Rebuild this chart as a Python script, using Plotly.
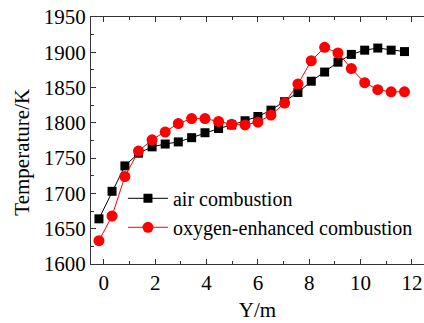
import plotly.graph_objects as go

y_pos = [-0.19, 0.32, 0.82, 1.35, 1.88, 2.39, 2.9, 3.42, 3.94, 4.47, 4.98, 5.5,
         6.0, 6.51, 7.04, 7.56, 8.08, 8.6, 9.12, 9.64, 10.16, 10.67, 11.19, 11.71]
air_temp = [1664, 1703, 1739, 1757, 1766, 1770, 1773, 1779, 1786, 1792, 1797, 1803,
            1809, 1818, 1830, 1843, 1859, 1872, 1886, 1897, 1903, 1906, 1903, 1901]
oxy_temp = [1633, 1668, 1724, 1760, 1776, 1787, 1799, 1806, 1806, 1802, 1798, 1797,
            1801, 1811, 1828, 1855, 1888, 1907, 1899, 1877, 1857, 1847, 1844, 1844]

font = "Liberation Serif, Times New Roman, serif"
fs = 21

fig = go.Figure()
fig.add_trace(go.Scatter(x=y_pos, y=air_temp, mode="lines+markers", name="air combustion",
                         line=dict(color="black", width=1),
                         marker=dict(symbol="square", size=9, color="black")))
fig.add_trace(go.Scatter(x=y_pos, y=oxy_temp, mode="lines+markers", name="oxygen-enhanced combustion",
                         line=dict(color="red", width=1),
                         marker=dict(symbol="circle", size=11, color="red")))

axis_common = dict(showgrid=False, zeroline=False, showline=True, linecolor="#333",
                   linewidth=1, ticks="inside", ticklen=5, tickcolor="#333", automargin=False,
                   tickfont=dict(family=font, size=fs, color="black"))
fig.update_xaxes(range=[-0.5, 12.47], tickvals=[0, 2, 4, 6, 8, 10, 12], mirror="ticks",
                 minor=dict(ticks="inside", ticklen=3, dtick=1, tick0=0, tickcolor="#333"),
                 title=dict(text="Y/m", font=dict(family=font, size=fs, color="black"), standoff=8),
                 **axis_common)
fig.update_yaxes(range=[1600, 1950], dtick=50, tick0=1600,
                 minor=dict(ticks="inside", ticklen=3, dtick=25, tick0=1600, tickcolor="#333"),
                 **axis_common)

fig.add_annotation(text="Temperature/K", xref="paper", yref="paper", x=-0.207, y=0.451,
                   xanchor="center", yanchor="middle", textangle=-90, showarrow=False,
                   font=dict(family=font, size=fs, color="black"))

fig.update_layout(width=424, height=323, margin=dict(l=91, r=0, t=17, b=59),
                  paper_bgcolor="white", plot_bgcolor="white",
                  font=dict(family=font, size=fs, color="black"),
                  legend=dict(x=0.096, y=0.345, xanchor="left", yanchor="top",
                              bgcolor="rgba(0,0,0,0)", font=dict(family=font, size=20),
                              tracegroupgap=0, itemwidth=40),
                  showlegend=True)

fig.write_html("out.html", config={"displayModeBar": False},
               post_script="document.body.style.margin='0px';document.body.style.overflow='hidden';")
